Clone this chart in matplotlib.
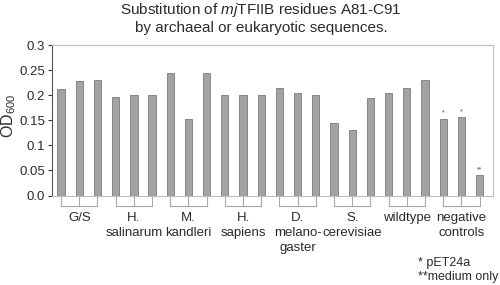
import matplotlib
matplotlib.use("Agg")
import matplotlib.pyplot as plt
import numpy as np

plt.rcParams['font.family'] = ['Liberation Sans', 'DejaVu Sans']
plt.rcParams['mathtext.fontset'] = 'custom'
plt.rcParams['mathtext.rm'] = 'Liberation Sans'
plt.rcParams['mathtext.it'] = 'Liberation Sans:italic'

# data
groups = ['G/S', 'H.\nsalinarum', 'M.\nkandleri', 'H.\nsapiens',
          'D.\nmelano-\ngaster', 'S.\ncerevisiae', 'wildtype', 'negative\ncontrols']
od600 = [0.212, 0.229, 0.230,
         0.197, 0.200, 0.200,
         0.244, 0.153, 0.244,
         0.200, 0.201, 0.200,
         0.214, 0.205, 0.200,
         0.145, 0.131, 0.195,
         0.205, 0.215, 0.230,
         0.153, 0.156, 0.040]
marks = {21: '*', 22: '*', 23: '**'}
yticks = [0.0, 0.05, 0.1, 0.15, 0.2, 0.25, 0.3]
ytick_labels = ['0.0', '0.05', '0.1', '0.15', '0.2', '0.25', '0.3']

txt = '#2b2b2b'
fig = plt.figure(figsize=(5, 2.85), dpi=100)
ax = fig.add_axes([0.104, 0.314, 0.882, 0.528])

x = np.arange(len(od600))
ax.bar(x, od600, width=0.4, color='#a3a3a3', edgecolor='#7a7a7a', linewidth=0.6)

for i, m in marks.items():
    ax.text(x[i], od600[i] + 0.004, m, ha='center', va='bottom', fontsize=5, color='#555555')

ax.set_xlim(-0.5, 23.74)
ax.set_ylim(0, 0.3)
ax.set_yticks(yticks)
ax.set_yticklabels(ytick_labels)
ax.set_xticks([])
ax.tick_params(axis='y', direction='out', length=3, width=0.8, color='#333333',
               labelsize=9.5, labelcolor=txt, pad=2)

for side in ['top', 'right', 'bottom']:
    ax.spines[side].set_color('#bdbdbd')
    ax.spines[side].set_linewidth(0.8)
ax.spines['left'].set_color('#555555')
ax.spines['left'].set_linewidth(0.8)

# group brackets and labels under the axis
tr = ax.get_xaxis_transform()
y_top, y_bot = -0.012, -0.07
for g, name in enumerate(groups):
    xs = x[3 * g:3 * g + 3]
    ax.plot([xs[0], xs[-1]], [y_bot, y_bot], transform=tr, color='#a8a8a8', lw=0.8, clip_on=False)
    for xi in xs:
        ax.plot([xi, xi], [y_top, y_bot], transform=tr, color='#a8a8a8', lw=0.8, clip_on=False)
    ax.text(xs[1], -0.112, name, transform=tr, ha='center', va='top', fontsize=9.5,
            color=txt, linespacing=1.3)

fig.text(0.522, 0.997, 'Substitution of $\\mathit{mj}$TFIIB residues A81-C91\nby archaeal or eukaryotic sequences.',
         ha='center', va='top', fontsize=11, color=txt, linespacing=1.15)
fig.text(0.018, 0.593, 'OD$_{600}$', rotation=90, ha='center', va='center', fontsize=11.5, color=txt)

fig.text(0.835, 0.077, '* pET24a', ha='left', va='center', fontsize=9, color=txt)
fig.text(0.835, 0.027, '**medium only', ha='left', va='center', fontsize=9, color=txt)

fig.savefig('out.png', dpi=100, facecolor='white')
